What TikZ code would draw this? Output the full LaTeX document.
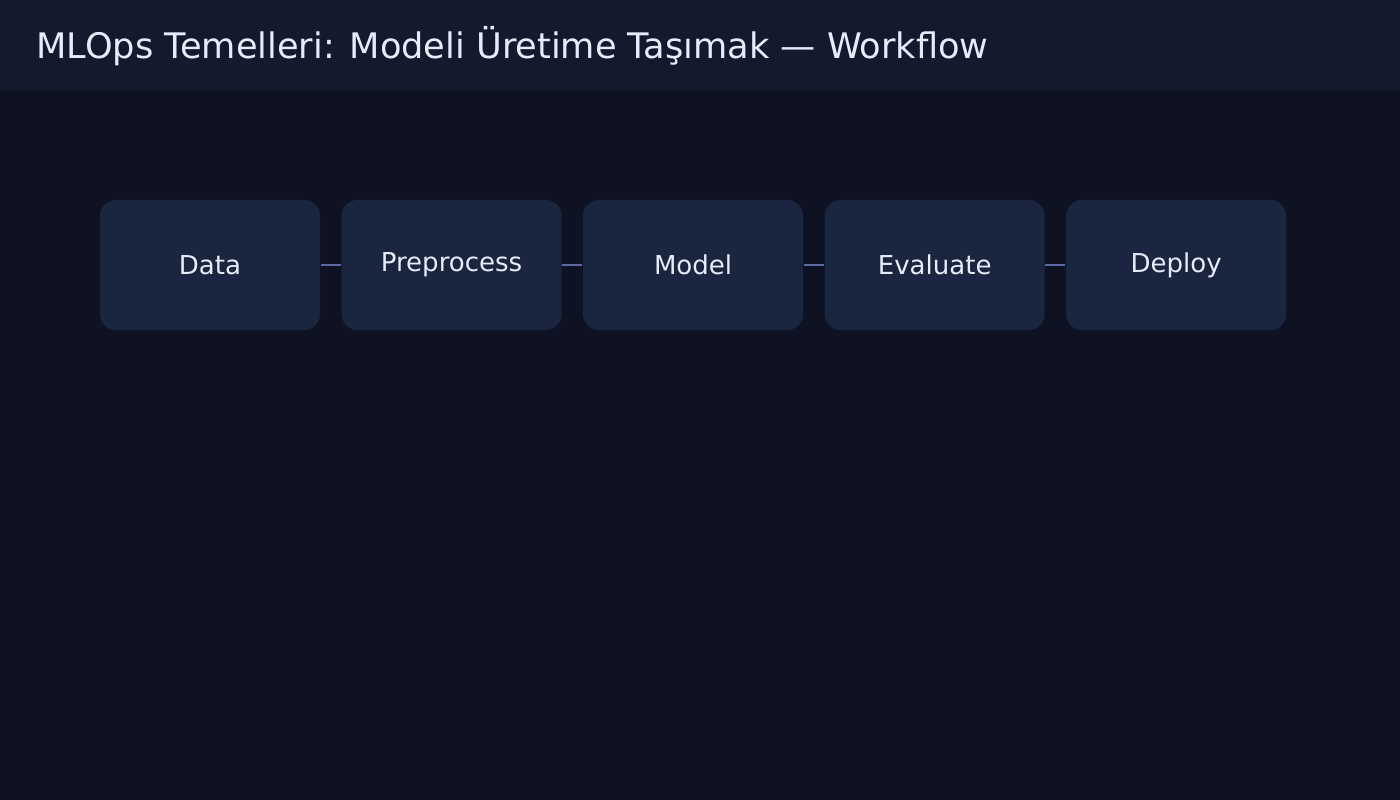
\documentclass[tikz,border=0pt]{standalone}
\usepackage{fontspec}
\setmainfont{DejaVu Sans}
\usetikzlibrary{positioning}
\definecolor{bgdark}{HTML}{0E1222}
\definecolor{headbg}{HTML}{141A2E}
\definecolor{boxfill}{HTML}{1A2540}
\definecolor{linkcol}{HTML}{5A6AA0}
\definecolor{textcol}{HTML}{E6ECFA}
\begin{document}
\begin{tikzpicture}[x=0.01cm,y=-0.01cm,
    stage/.style = {fill=boxfill, rounded corners=0.16cm, minimum width=2.2cm, minimum height=1.3cm,
                    text=textcol, font=\fontsize{7.4}{8}\selectfont, inner sep=0pt},
    link/.style = {draw=linkcol, line width=0.85pt}]
    \fill[bgdark] (0,0) rectangle (1400,800);
    \fill[headbg] (0,0) rectangle (1400,90);
    \node[anchor=west, text=textcol, font=\fontsize{10}{12}\selectfont] (title) at (24,46)
        {MLOps Temelleri: Modeli Üretime Taşımak — Workflow};
    \node[stage] (data) at (210,265) {Data};
    \node[stage] (prep) [right=0.2cm of data] {Preprocess};
    \node[stage] (model) [right=0.2cm of prep] {Model};
    \node[stage] (eval) [right=0.2cm of model] {Evaluate};
    \node[stage] (deploy) [right=0.2cm of eval] {Deploy};
    \draw[link] (data) -- (prep);
    \draw[link] (prep) -- (model);
    \draw[link] (model) -- (eval);
    \draw[link] (eval) -- (deploy);
\end{tikzpicture}
\end{document}
